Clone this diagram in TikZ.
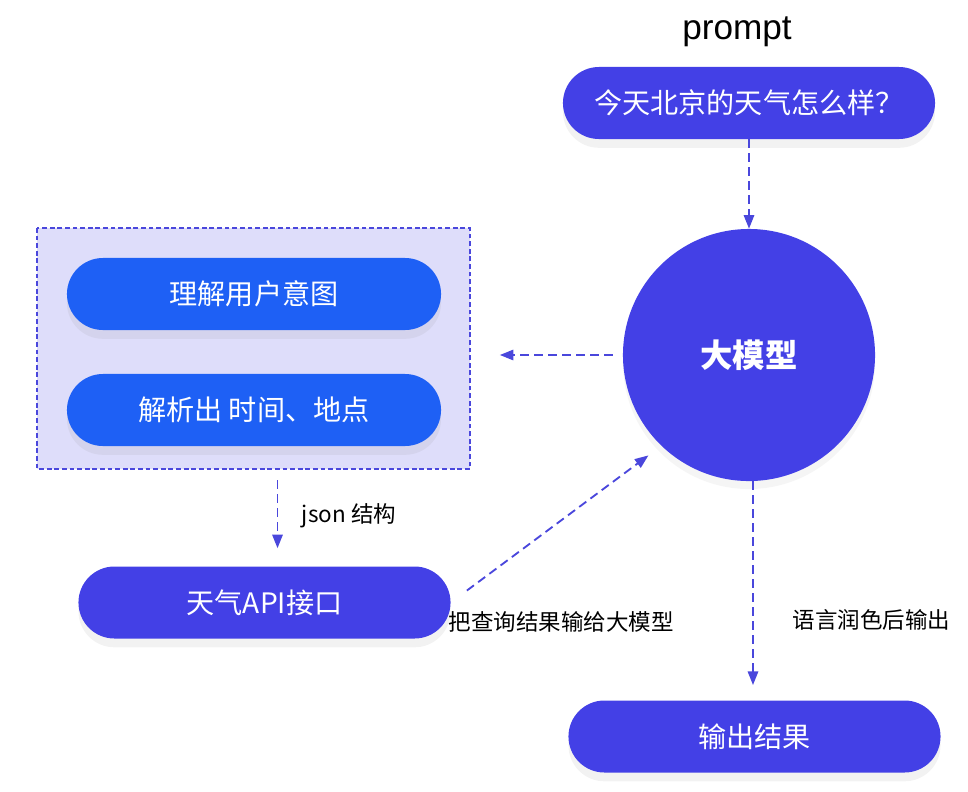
\documentclass[tikz,border=0pt]{standalone}
\usepackage{fontspec}
\setmainfont{Noto Sans CJK SC}
\newfontfamily\latinfont{Liberation Sans}
\usetikzlibrary{arrows.meta,shadows}
\definecolor{indigoblue}{RGB}{67,64,230}
\definecolor{brightblue}{RGB}{30,96,245}
\definecolor{lavender}{RGB}{222,221,250}
\definecolor{dashblue}{RGB}{74,71,220}

\begin{document}
\begin{tikzpicture}[x=0.025cm,y=-0.025cm,
  pill/.style={rectangle,rounded corners=0.9cm,minimum width=9.3cm,minimum height=1.8cm,
    text=white,font=\fontsize{20}{20}\selectfont,
    drop shadow={opacity=0.1,shadow xshift=0cm,shadow yshift=-0.22cm}},
  arr/.style={dashblue,line width=1.3pt,dash pattern=on 0.22cm off 0.13cm,-{Triangle[length=0.34cm,width=0.26cm]}},
  lbl/.style={font=\fontsize{16}{16}\selectfont,text=black}]
\useasboundingbox (0,0) rectangle (968,791);
%================================================================
%	Top
\node[font=\latinfont\fontsize{25}{25}\selectfont] (prompttxt) at (737,32) {prompt};
\node[pill,fill=indigoblue] (ask) at (749,103) {今天北京的天气怎么样？};
\node[circle,fill=indigoblue,minimum size=6.3cm,text=white,
  font=\fontsize{23}{23}\selectfont\bfseries,
  drop shadow={opacity=0.08,shadow xshift=0cm,shadow yshift=-0.2cm}] (llm) at (749,355) {大模型};
%================================================================
%	Left box
\draw[dashblue,line width=0.9pt,dash pattern=on 0.12cm off 0.07cm,fill=lavender] (37,228) rectangle (470,469);
\node[minimum width=10.8cm,minimum height=6cm] (box) at (253.5,348.5) {};
\node[pill,fill=brightblue,minimum width=9.35cm] (intent) at (254,294) {理解用户意图};
\node[pill,fill=brightblue,minimum width=9.35cm] (parse) at (254,410) {解析出 时间、地点};
%----------------------------------------------------------------
\node[pill,fill=indigoblue] (api) at (264.5,602.5) {天气API接口};
\node[pill,fill=indigoblue] (result) at (754.5,736.5) {输出结果};
%================================================================
%	Arrows
\draw[arr] (ask.south) -- (llm.north);
\draw[arr,shorten <=0.25cm,shorten >=0.75cm] (llm.west) -- (llm.west -| box.east);
\draw[arr] ([xshift=0.6cm,yshift=-0.28cm]box.south) -- ([xshift=0.6cm,yshift=0.45cm]box.south |- api.north);
\draw[arr,shorten <=0.5cm,shorten >=0.4cm] (api.east) -- (llm.226);
\draw[arr,shorten >=0.38cm] ([xshift=0.1cm]llm.south) -- ([xshift=0.1cm]llm.south |- result.north);
%----------------------------------------------------------------
\node[lbl,anchor=west] (jsonlbl) at (297,516) {json 结构};
\node[lbl,anchor=west] (feedlbl) at (444,622) {把查询结果输给大模型};
\node[lbl,anchor=west] (polishlbl) at (788,620) {语言润色后输出};
%================================================================
\end{tikzpicture}
\end{document}
